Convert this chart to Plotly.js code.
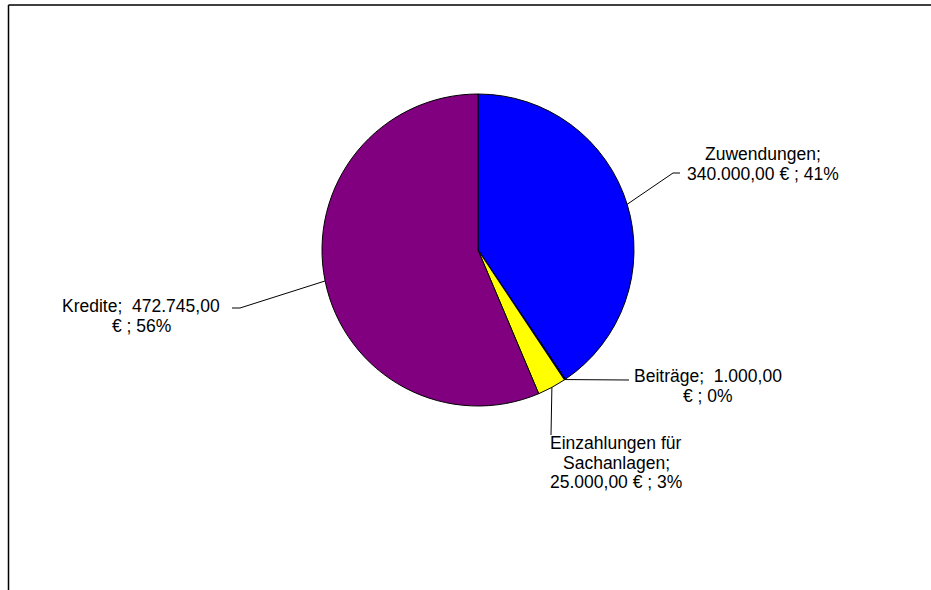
<!DOCTYPE html>
<html>
<head>
<meta charset="utf-8">
<script src="https://cdn.plot.ly/plotly-3.0.1.min.js"></script>
<style>
  body { margin: 0; background: #fff; }
  #chart { width: 931px; height: 590px; }
</style>
</head>
<body>
<div id="chart"></div>
<script>
// slices, clockwise from 12 o'clock
const sliceNames = ['Zuwendungen', 'Beiträge', 'Einzahlungen für Sachanlagen', 'Kredite'];
const sliceValues = [340000, 1000, 25000, 472745];
const sliceColors = ['#0000FF', '#000080', '#FFFF00', '#800080'];

// how many words go on each label line
const labelWrap = [[1, 4], [2, 3], [2, 1, 4], [2, 3]];
// label placement (px): text centre x, top of first line, and leader elbow
const labelPos = [
    { x: 763, top: 144, elbow: [[673, 173], [680, 173]] },
    { x: 708, top: 366, elbow: [[629, 380]] },
    { x: 616, top: 433, elbow: [[551, 435]] },
    { x: 141, top: 296, elbow: [[240, 308], [232, 308]] }
];

const W = 931, H = 590;
const cx = 478, cy = 250, r = 156;
const linePitch = 19.6;

const px = x => x / W;
const py = y => 1 - y / H;

function fmtDE(v) {
    const parts = v.toFixed(2).split('.');
    const intPart = parts[0].replace(/\B(?=(\d{3})+(?!\d))/g, '.');
    return intPart + ',' + parts[1];
}

const total = sliceValues.reduce((a, b) => a + b, 0);
const font = { family: 'Liberation Sans, Arial, sans-serif', size: 17.5, color: '#000' };

const annotations = [];
const shapes = [];

let cum = 0;
sliceValues.forEach((v, i) => {
    const mid = (cum + v / 2) / total * 2 * Math.PI;
    cum += v;
    const ex = cx + r * Math.sin(mid);
    const ey = cy - r * Math.cos(mid);

    const pct = Math.round(v / total * 100);
    const words = (sliceNames[i] + '; ' + fmtDE(v) + ' € ; ' + pct + '%').split(' ');
    let k = 0;
    labelWrap[i].forEach((n, li) => {
        // Excel puts a wider gap between name and value
        const line = words.slice(k, k + n).join(' ').replace(/([a-zäöü]); (\d)/, '$1;\u00a0 $2');
        k += n;
        annotations.push({
            xref: 'paper', yref: 'paper',
            x: px(labelPos[i].x), y: py(labelPos[i].top + li * linePitch),
            xanchor: 'center', yanchor: 'top',
            borderpad: 0, borderwidth: 0,
            text: line, showarrow: false, font: font
        });
    });

    let path = 'M' + px(ex) + ',' + py(ey);
    labelPos[i].elbow.forEach(p => { path += ' L' + px(p[0]) + ',' + py(p[1]); });
    shapes.push({ type: 'path', xref: 'paper', yref: 'paper', path: path,
        line: { color: '#000', width: 1 } });
});

// frame
shapes.push({ type: 'line', xref: 'paper', yref: 'paper',
    x0: px(8.5), y0: py(5), x1: 1, y1: py(5), line: { color: '#404040', width: 2 } });
shapes.push({ type: 'line', xref: 'paper', yref: 'paper',
    x0: px(8.5), y0: py(5), x1: px(8.5), y1: 0, line: { color: '#000', width: 1.5 } });

const data = [{
    type: 'pie',
    labels: sliceNames,
    values: sliceValues,
    sort: false,
    direction: 'clockwise',
    rotation: 0,
    textinfo: 'none',
    hoverinfo: 'label+value+percent',
    marker: { colors: sliceColors, line: { color: '#000', width: 1 } },
    domain: { x: [px(cx - r), px(cx + r)], y: [py(cy + r), py(cy - r)] }
}];

const layout = {
    width: W, height: H,
    margin: { l: 0, r: 0, t: 0, b: 0 },
    paper_bgcolor: '#fff',
    showlegend: false,
    annotations: annotations,
    shapes: shapes
};

Plotly.newPlot('chart', data, layout, { staticPlot: true });
</script>
</body>
</html>
